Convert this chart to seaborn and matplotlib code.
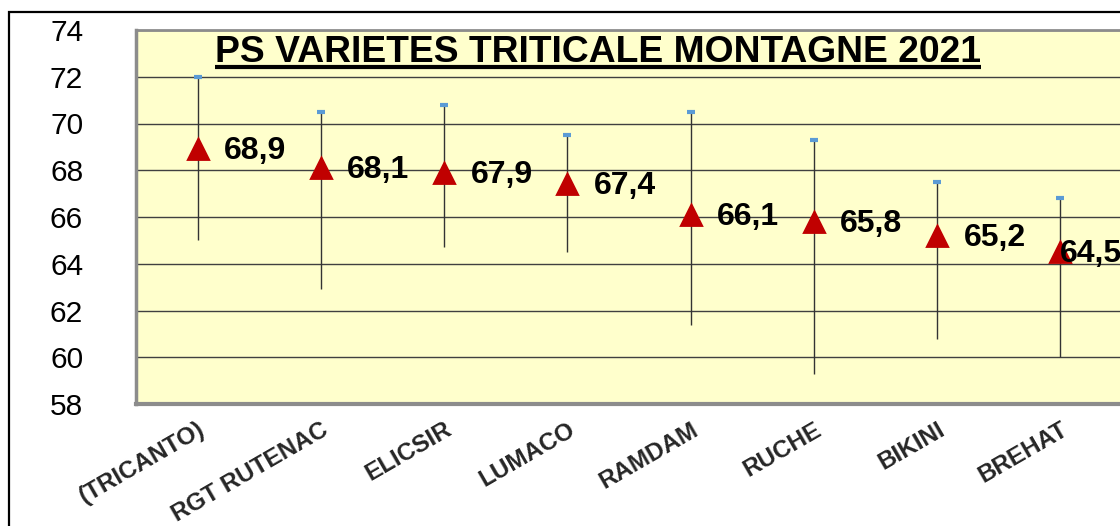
import numpy as np
import matplotlib
matplotlib.use("Agg")
import matplotlib.pyplot as plt
import seaborn as sns
from matplotlib.patches import Rectangle
from matplotlib.lines import Line2D

categories = ["(TRICANTO)", "RGT RUTENAC", "ELICSIR", "LUMACO", "RAMDAM", "RUCHE", "BIKINI", "BREHAT"]
ps_values = [68.9, 68.1, 67.9, 67.4, 66.1, 65.8, 65.2, 64.5]
ps_high = [72.0, 70.5, 70.8, 69.5, 70.5, 69.3, 67.5, 66.8]
ps_low = [65.0, 62.9, 64.7, 64.5, 61.4, 59.3, 60.8, 60.0]
y_ticks = [58, 60, 62, 64, 66, 68, 70, 72, 74]
title = "PS VARIETES TRITICALE MONTAGNE 2021"

sns.set_style("white")
plt.rcParams["font.family"] = ["Liberation Sans", "DejaVu Sans"]

W, H = 1120, 526
fig = plt.figure(figsize=(W / 100, H / 100), dpi=100)
fig.patch.set_facecolor("white")

# outer chart-area border (clipped on right/bottom like the reference)
fig.patches.append(Rectangle((9 / W, -0.2), 1.2, 1 - 12 / H + 0.2, transform=fig.transFigure,
                             fill=False, edgecolor="black", linewidth=1.6, zorder=0))

ax = fig.add_axes([136 / W, 122 / H, 986 / W, 374 / H])
ax.set_facecolor("#FFFFCC")

x = np.arange(len(categories))

# error ranges
ax.vlines(x, ps_low, ps_high, colors="#333333", linewidth=1.0, zorder=2)
ax.plot(x, ps_high, linestyle="none", marker="_", color="#5B9BD5",
        markersize=6, markeredgewidth=3, zorder=3)

sns.pointplot(x=categories, y=ps_values, linestyle="none", marker="^",
              color="#C00000", markersize=14, errorbar=None, ax=ax, zorder=4)

ax.set_xlim(-0.5, len(categories) - 0.5)
ax.set_ylim(y_ticks[0], y_ticks[-1])
ax.set_yticks(y_ticks)
ax.set_yticklabels([str(t) for t in y_ticks])
ax.yaxis.grid(True, color="#404040", linewidth=1.0)
ax.xaxis.grid(False)
ax.set_axisbelow(True)
ax.set_xlabel("")
ax.set_ylabel("")

for side, lw in [("left", 2.5), ("bottom", 3.0), ("top", 2.0), ("right", 2.0)]:
    ax.spines[side].set_visible(True)
    ax.spines[side].set_color("#8c8c8c")
    ax.spines[side].set_linewidth(lw)

ax.tick_params(axis="y", length=0, pad=38, labelsize=21.5, labelcolor="black")
ax.tick_params(axis="x", length=0, pad=10, labelsize=17.5)
ax.set_xticks(x)
ax.set_xticklabels(categories)
for lab in ax.get_xticklabels():
    lab.set_rotation(30)
    lab.set_ha("right")
    lab.set_va("top")
    lab.set_rotation_mode("anchor")
    lab.set_fontweight("bold")

# value labels, shifted left when they would spill past the plot's right edge
fig.canvas.draw()
renderer = fig.canvas.get_renderer()
ax_right = ax.get_window_extent(renderer).x1
for xi, v in zip(x, ps_values):
    txt = ax.annotate(f"{v:.1f}".replace(".", ","), (xi, v), xytext=(19, -1.5),
                      textcoords="offset points", ha="left", va="center",
                      fontsize=23, fontweight="bold", color="black", zorder=6,
                      annotation_clip=False)
    bb = txt.get_window_extent(renderer)
    if bb.x1 > ax_right:
        shift = (bb.x1 - ax_right) * 72 / fig.dpi
        txt.set_position((19 - shift, -1.5))

# underlined title
t = fig.text(598 / W, 1 - 62 / H, title, ha="center", va="baseline",
             fontsize=26.8, fontweight="bold", color="black", zorder=7)
fig.canvas.draw()
tb = t.get_window_extent(renderer)
line_y = (1 - 67 / H)
fig.lines.append(Line2D([tb.x0 / W, tb.x1 / W], [line_y, line_y], transform=fig.transFigure,
                        color="black", linewidth=3, solid_capstyle="butt", zorder=7))

fig.savefig("out.png", dpi=100)
